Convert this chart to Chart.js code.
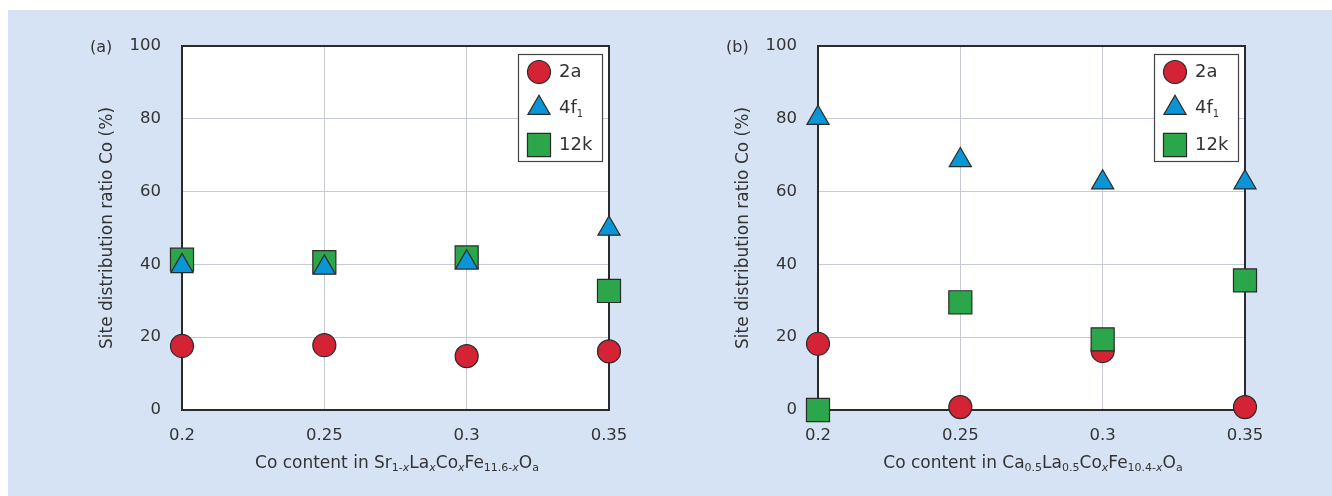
<!DOCTYPE html>
<html>
<head>
<meta charset="utf-8">
<script src="https://cdn.jsdelivr.net/npm/chart.js@4.4.1/dist/chart.umd.min.js"></script>
<style>
  html, body { margin: 0; padding: 0; }
  body { width: 1332px; height: 496px; background: #ffffff; position: relative; overflow: hidden;
         font-family: "DejaVu Sans", sans-serif; color: #333; }
  #bg { position: absolute; left: 8px; top: 10px; right: 0; bottom: 0; background: #d5e3f4; }
  .panel { position: absolute; top: 0; height: 496px; width: 696px; }
  #panelA { left: 0; }
  #panelB { left: 636px; }
  .panel canvas { position: absolute; left: 0; top: 0; }
  .plabel { position: absolute; left: 90px; top: 37px; font-size: 16px; line-height: 20px; white-space: nowrap; }
  .xtitle { position: absolute; left: 397px; top: 452px; font-size: 17px; line-height: 20px; white-space: nowrap;
            transform: translateX(-50%); }
  .xtitle sub { font-size: 11px; vertical-align: -3px; line-height: 0; }
</style>
</head>
<body>
<div id="bg"></div>
<div class="panel" id="panelA">
  <canvas id="chartA" width="696" height="496"></canvas>
  <div class="plabel">(a)</div>
  <div class="xtitle">Co content in Sr<sub>1-<i>x</i></sub>La<sub><i>x</i></sub>Co<sub><i>x</i></sub>Fe<sub>11.6-<i>x</i></sub>O<sub>a</sub></div>
</div>
<div class="panel" id="panelB">
  <canvas id="chartB" width="696" height="496"></canvas>
  <div class="plabel">(b)</div>
  <div class="xtitle">Co content in Ca<sub>0.5</sub>La<sub>0.5</sub>Co<sub><i>x</i></sub>Fe<sub>10.4-<i>x</i></sub>O<sub>a</sub></div>
</div>
<script>
// ---- data ----
const cobaltContent = [0.2, 0.25, 0.3, 0.35];
const xTickValues = [0.2, 0.25, 0.3, 0.35];
const yTickValues = [0, 20, 40, 60, 80, 100];
const seriesNames = ['2a', '4f', '12k'];
const seriesSubs = ['', '1', ''];
const yAxisTitle = 'Site distribution ratio Co (%)';

// (a) Sr1-xLaxCoxFe11.6-xOa
const a_2a  = [17.6, 17.8, 14.8, 16.1];
const a_4f1 = [39.5, 39.1, 40.5, 49.8];
const a_12k = [41.3, 40.6, 41.9, 32.7];

// (b) Ca0.5La0.5CoxFe10.4-xOa
const b_2a  = [18.2, 0.8, 16.2, 0.8];
const b_4f1 = [80.2, 68.6, 62.5, 62.5];
const b_12k = [0.0, 29.6, 19.4, 35.6];

// ---- styles ----
const seriesStyle = [
  { pointStyle: 'circle',   radius: 11.5, color: '#d42335', order: 2 },
  { pointStyle: 'triangle', radius: 12.8, color: '#0a96d6', order: 0 },
  { pointStyle: 'rect',     radius: 16.3, color: '#2ca64a', order: 1 }
];

Chart.defaults.font.family = '"DejaVu Sans", sans-serif';
Chart.defaults.color = '#333';

function makeDatasets(seriesValues) {
  return seriesValues.map((vals, i) => ({
    label: seriesNames[i] + seriesSubs[i],
    data: cobaltContent.map((x, k) => ({ x: x, y: vals[k] })),
    pointStyle: seriesStyle[i].pointStyle,
    pointRadius: seriesStyle[i].radius,
    pointHoverRadius: seriesStyle[i].radius,
    backgroundColor: seriesStyle[i].color,
    borderColor: '#2b2b2b',
    pointBorderWidth: 1.2,
    showLine: false,
    clip: false,
    order: seriesStyle[i].order
  }));
}

const plotFrame = {
  id: 'plotFrame',
  beforeDraw(chart) {
    const { ctx, chartArea: a } = chart;
    ctx.save();
    ctx.fillStyle = '#ffffff';
    ctx.fillRect(a.left, a.top, a.right - a.left, a.bottom - a.top);
    ctx.restore();
  },
  beforeDatasetsDraw(chart) {
    const { ctx, chartArea: a } = chart;
    ctx.save();
    ctx.strokeStyle = '#2b2b2b';
    ctx.lineWidth = 2;
    ctx.strokeRect(a.left, a.top, a.right - a.left, a.bottom - a.top);
    ctx.restore();
  }
};

const insideLegend = {
  id: 'insideLegend',
  afterDatasetsDraw(chart) {
    const { ctx, chartArea: a } = chart;
    const bx = a.right - 91, by = a.top + 8, bw = 84, bh = 107;
    ctx.save();
    ctx.fillStyle = '#ffffff';
    ctx.fillRect(bx, by, bw, bh);
    ctx.strokeStyle = '#444';
    ctx.lineWidth = 1.2;
    ctx.strokeRect(bx + 0.5, by + 0.5, bw, bh);
    const rows = [26, 62, 99];
    seriesNames.forEach((name, i) => {
      const cy = a.top + rows[i];
      const cx = bx + 21;
      const st = seriesStyle[i];
      ctx.fillStyle = st.color;
      ctx.strokeStyle = '#2b2b2b';
      ctx.lineWidth = 1.2;
      Chart.helpers.drawPoint(ctx, { pointStyle: st.pointStyle, radius: st.radius, rotation: 0, borderWidth: 1.2 }, cx, cy);
      ctx.fillStyle = '#333';
      ctx.textBaseline = 'middle';
      ctx.textAlign = 'left';
      ctx.font = '18px "DejaVu Sans", sans-serif';
      const tx = bx + 41;
      ctx.fillText(name, tx, cy);
      if (seriesSubs[i]) {
        const w = ctx.measureText(name).width;
        ctx.font = '10px "DejaVu Sans", sans-serif';
        ctx.fillText(seriesSubs[i], tx + w, cy + 6);
      }
    });
    ctx.restore();
  }
};

function makeChart(id, seriesValues, padRight) {
  return new Chart(document.getElementById(id), {
    type: 'scatter',
    data: { datasets: makeDatasets(seriesValues) },
    options: {
      responsive: false,
      animation: false,
      events: [],
      layout: { padding: { left: 0, right: padRight, top: 46, bottom: 46 } },
      plugins: { legend: { display: false }, tooltip: { enabled: false } },
      scales: {
        x: {
          type: 'linear',
          min: xTickValues[0],
          max: xTickValues[xTickValues.length - 1],
          afterBuildTicks: s => { s.ticks = xTickValues.map(v => ({ value: v })); },
          afterFit: s => { s.height = 40; },
          grid: { color: '#c6cad3', lineWidth: 1, drawTicks: false },
          border: { display: false },
          ticks: { padding: 16, font: { size: 16.5 }, color: '#333', maxRotation: 0,
                   callback: v => String(+v.toFixed(2)) }
        },
        y: {
          type: 'linear',
          min: yTickValues[0],
          max: yTickValues[yTickValues.length - 1],
          afterBuildTicks: s => { s.ticks = yTickValues.map(v => ({ value: v })); },
          afterFit: s => { s.width = 182; },
          grid: { color: '#c6cad3', lineWidth: 1, drawTicks: false },
          border: { display: false },
          ticks: { padding: 21, font: { size: 16.5 }, color: '#333',
                   callback: v => String(v) },
          title: { display: true, text: yAxisTitle, font: { size: 17 }, color: '#333',
                   padding: { top: 97, bottom: 0 } }
        }
      }
    },
    plugins: [plotFrame, insideLegend]
  });
}

makeChart('chartA', [a_2a, a_4f1, a_12k], 87);
makeChart('chartB', [b_2a, b_4f1, b_12k], 87);
</script>
</body>
</html>
